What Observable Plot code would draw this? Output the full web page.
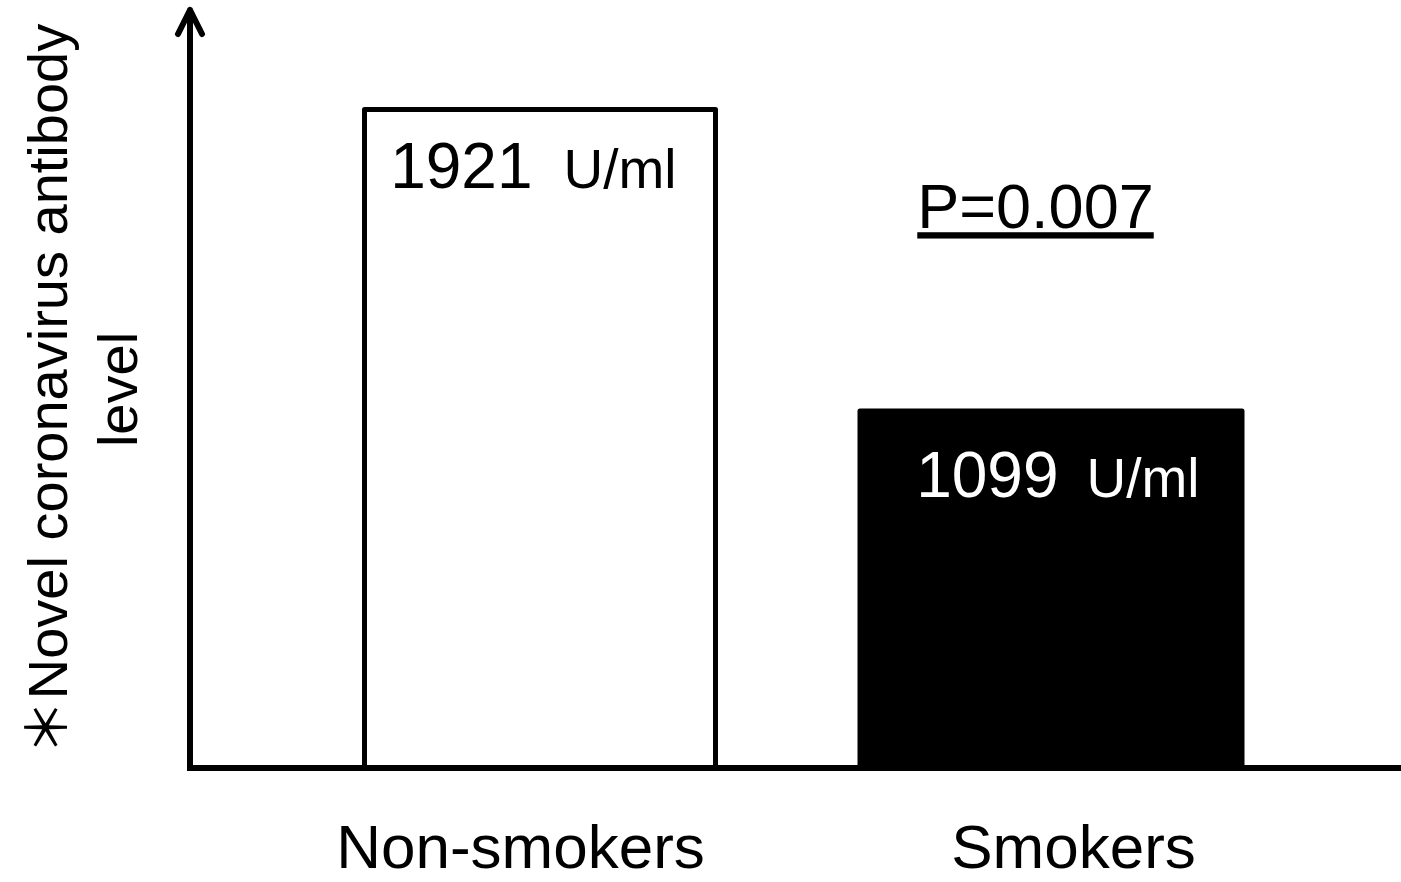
<!DOCTYPE html>
<html>
<head>
<meta charset="utf-8">
<script src="https://cdn.jsdelivr.net/npm/d3@7"></script>
<script src="https://cdn.jsdelivr.net/npm/@observablehq/plot@0.6"></script>
<style>
  html, body { margin: 0; padding: 0; background: #fff; }
</style>
</head>
<body>
<div id="chart"></div>
<script>
// ---- data ----
const categories = ["Non-smokers", "Smokers"];
const antibodyLevels = [1921, 1099];
const valueUnit = "U/ml";
const pValueLabel = "P=0.007";
const yAxisLabel = "＊Novel coronavirus antibody\nlevel";

const rows = categories.map((c, i) => ({group: c, level: antibodyLevels[i]}));

// ---- styling ----
const FONT = "'Liberation Sans', Arial, 'Noto Sans CJK JP', sans-serif";
const barStyles = [
  {fill: "white", inset: 15.5, numDx: -8, unitDx: 23, numDy: 78, labelColor: "black", catDx: -20},
  {fill: "black", inset: 0, numDx: 7, unitDx: 35, numDy: 85, labelColor: "white", catDx: 22}
];

function axesMark(index, scales, values, dims) {
  const x0 = dims.marginLeft;
  const yb = dims.height - dims.marginBottom;
  const yt = dims.marginTop;
  const g = d3.create("svg:g")
    .attr("fill", "none")
    .attr("stroke", "black")
    .attr("stroke-width", 6);
  g.append("line")
    .attr("x1", x0 - 3).attr("x2", dims.width)
    .attr("y1", yb).attr("y2", yb);
  g.append("path")
    .attr("stroke-linecap", "round")
    .attr("stroke-linejoin", "round")
    .attr("d", `M${x0},${yb}V${yt}M${x0 - 12},${yt + 24}L${x0},${yt}L${x0 + 12},${yt + 24}`);
  return g.node();
}

const marks = [];
rows.forEach((r, i) => {
  const s = barStyles[i];
  marks.push(Plot.barY([r], {
    x: "group", y: "level",
    fill: s.fill, stroke: "black", strokeWidth: 5, strokeLinejoin: "round",
    insetLeft: s.inset, insetRight: s.inset
  }));
  marks.push(Plot.text([r], {
    x: "group", y: "level", text: d => String(d.level),
    textAnchor: "end", lineAnchor: "bottom", dx: s.numDx, dy: s.numDy,
    fontSize: 64, fill: s.labelColor
  }));
  marks.push(Plot.text([r], {
    x: "group", y: "level", text: () => valueUnit,
    textAnchor: "start", lineAnchor: "bottom", dx: s.unitDx, dy: s.numDy,
    fontSize: 55, fill: s.labelColor
  }));
  marks.push(Plot.text([r], {
    x: "group", frameAnchor: "bottom", text: "group",
    lineAnchor: "bottom", dx: s.catDx, dy: 99,
    fontSize: 62, fill: "black"
  }));
});

marks.push(Plot.text([pValueLabel], {
  x: () => categories[1], frameAnchor: "top", text: d => d,
  lineAnchor: "top", dx: -16, dy: 173, fontSize: 63, fill: "black"
}));

marks.push(Plot.text([yAxisLabel], {
  frameAnchor: "left", text: d => d, rotate: -90,
  lineAnchor: "top", textAnchor: "middle", lineHeight: 1.25,
  dx: -173, fontSize: 56, fill: "black"
}));

marks.push(axesMark);

const chart = Plot.plot({
  width: 1401,
  height: 882,
  marginLeft: 190,
  marginRight: 0,
  marginTop: 10,
  marginBottom: 114,
  style: {fontFamily: FONT, background: "white", overflow: "visible"},
  x: {type: "band", domain: categories, paddingInner: 0.2532, paddingOuter: 0.3104, align: 0.5, axis: null},
  y: {domain: [126, 2192], clamp: true, axis: null},
  marks
});
document.getElementById("chart").appendChild(chart);

// underline the p-value annotation
d3.select(chart).selectAll("text")
  .filter(function () { return this.textContent === pValueLabel; })
  .style("text-decoration", "underline")
  .style("text-decoration-thickness", "2.5px")
  .style("text-underline-offset", "10px");
</script>
</body>
</html>
